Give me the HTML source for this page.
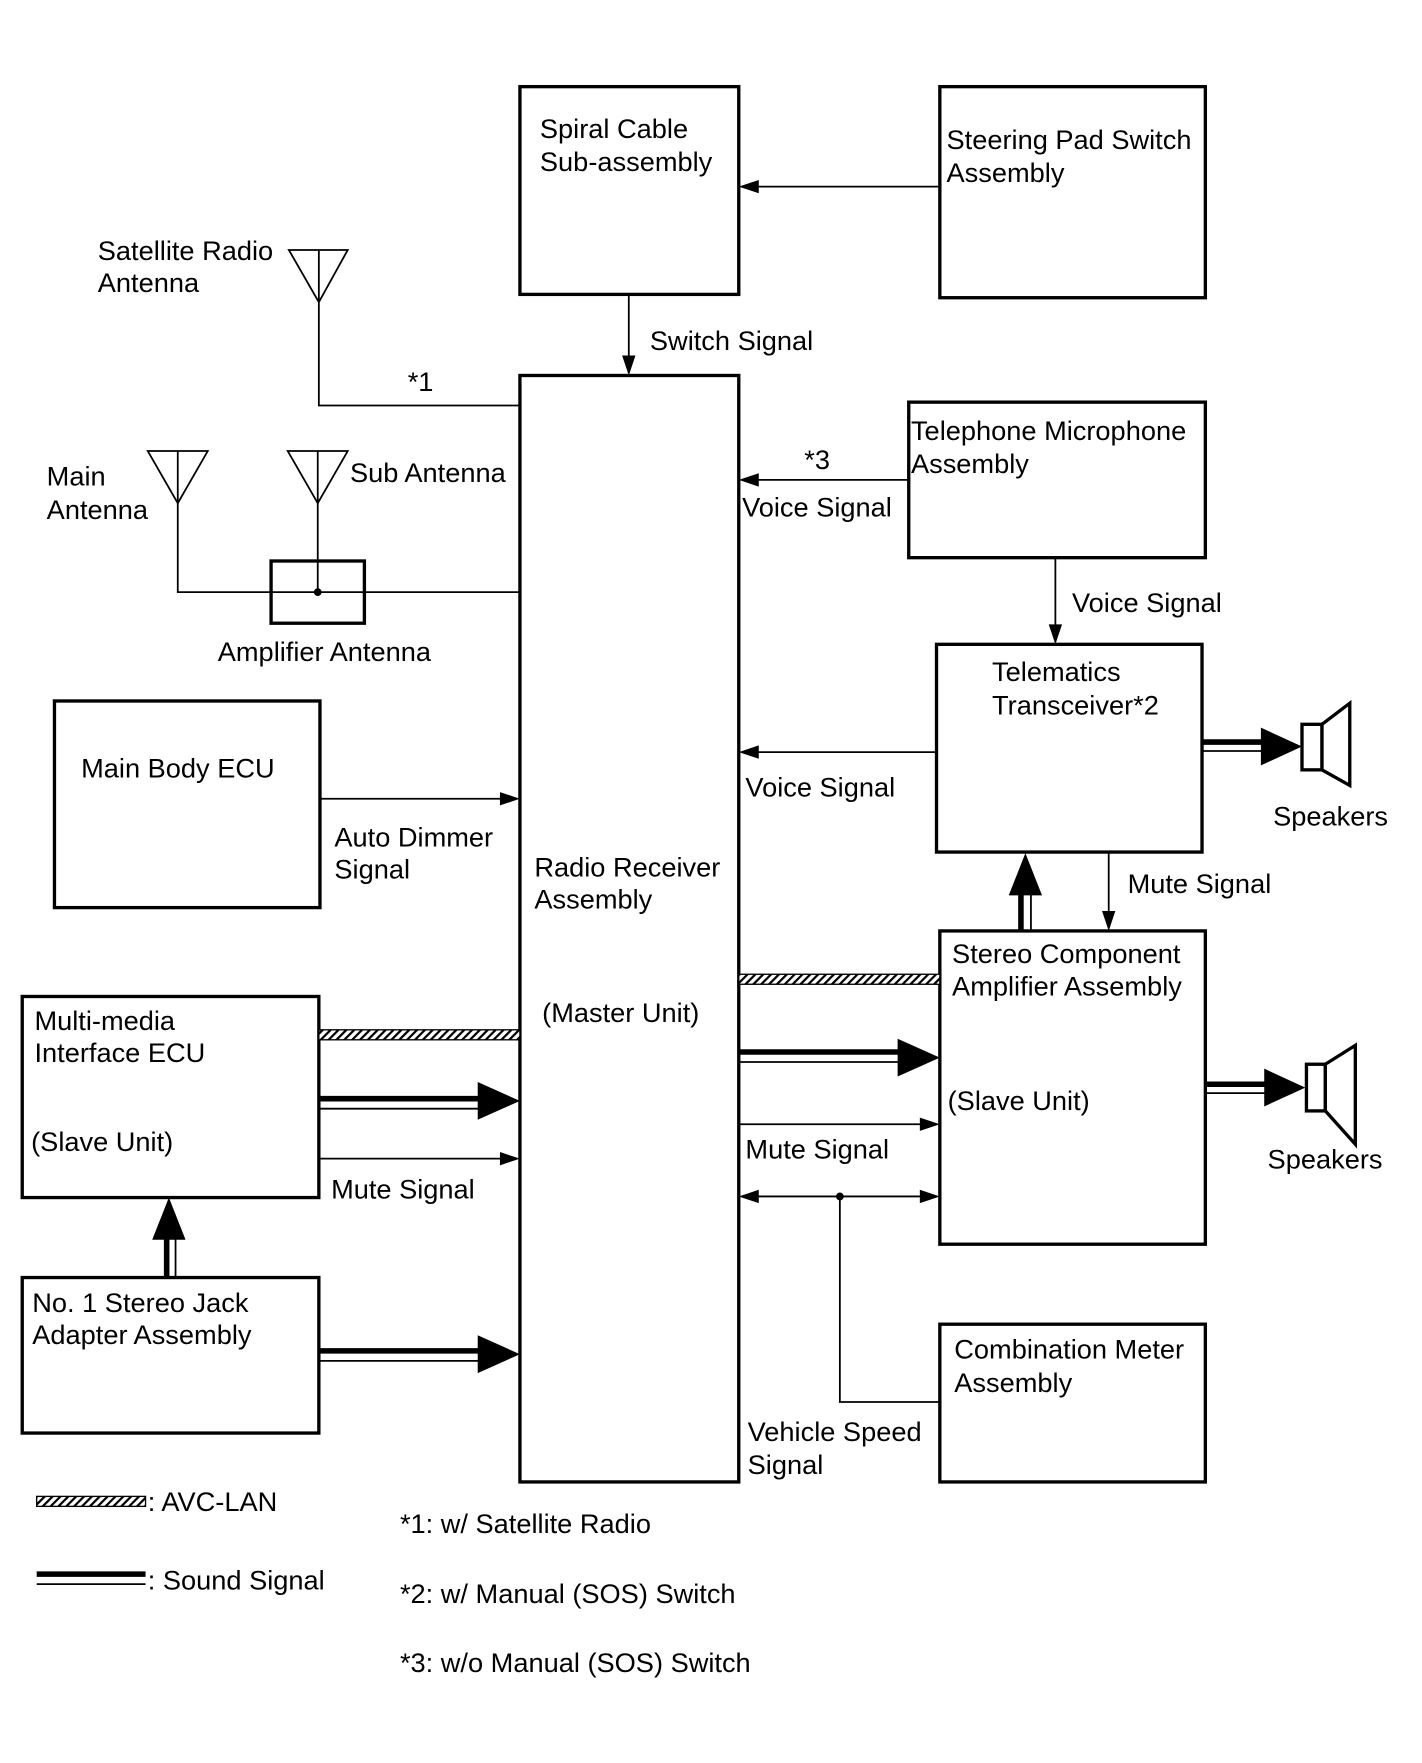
<!DOCTYPE html>
<html><head><meta charset="utf-8"><style>html,body{margin:0;padding:0;background:#fff}svg{display:block}</style></head><body>
<svg width="1422" height="1763" viewBox="0 0 1280 1587" xmlns="http://www.w3.org/2000/svg" font-family="Liberation Sans, sans-serif" font-size="24.5" fill="#000">
<defs>
<pattern id="h" width="5" height="5" patternUnits="userSpaceOnUse" patternTransform="rotate(45)"><rect width="5" height="5" fill="#fff"/><rect width="2" height="5" fill="#000"/></pattern>
</defs>
<g fill="none" stroke="#000" stroke-width="3">
<rect x="468" y="78" width="197" height="187"/>
<rect x="846" y="78" width="239" height="190"/>
<rect x="468" y="338" width="197" height="996"/>
<rect x="818" y="362" width="267" height="140"/>
<rect x="843" y="580" width="239" height="187"/>
<rect x="846" y="838" width="239" height="282"/>
<rect x="846" y="1192" width="239" height="142"/>
<rect x="49" y="631" width="239" height="186"/>
<rect x="20" y="897" width="267" height="181"/>
<rect x="20" y="1150" width="267" height="140"/>
<rect x="244" y="505" width="84" height="56"/>
</g>
<g fill="none" stroke="#000" stroke-width="1.6">
<line x1="846" y1="168" x2="675" y2="168"/>
<line x1="566" y1="265" x2="566" y2="328"/>
<polyline points="287,225 287,365 468,365"/>
<polygon points="260,225 313,225 287,272"/>
<polygon points="133,406 187,406 160,453"/>
<line x1="160" y1="406" x2="160" y2="453"/>
<polygon points="259,406 313,406 286,453"/>
<line x1="286" y1="406" x2="286" y2="533"/>
<polyline points="160,453 160,533 468,533"/>
<line x1="818" y1="432" x2="675" y2="432"/>
<line x1="950" y1="502" x2="950" y2="570"/>
<line x1="843" y1="677" x2="675" y2="677"/>
<line x1="998" y1="767" x2="998" y2="828"/>
<line x1="288" y1="719" x2="458" y2="719"/>
<line x1="288" y1="1043" x2="458" y2="1043"/>
<line x1="665" y1="1012" x2="836" y2="1012"/>
<line x1="675" y1="1077" x2="836" y2="1077"/>
<polyline points="756,1077 756,1262 846,1262"/>
<line x1="1082" y1="676" x2="1140" y2="676"/>
<line x1="1085" y1="984" x2="1140" y2="984"/>
<line x1="665" y1="956" x2="812" y2="956"/>
<line x1="287" y1="998" x2="434" y2="998"/>
<line x1="287" y1="1225" x2="434" y2="1225"/>
<line x1="928" y1="838" x2="928" y2="800"/>
<line x1="158" y1="1150" x2="158" y2="1110"/>
<line x1="33" y1="1426" x2="131" y2="1426"/>
</g>
<g stroke="#000" stroke-width="5" fill="none">
<line x1="1082" y1="668" x2="1140" y2="668"/>
<line x1="1085" y1="976" x2="1140" y2="976"/>
<line x1="665" y1="947" x2="812" y2="947"/>
<line x1="287" y1="989" x2="434" y2="989"/>
<line x1="287" y1="1216" x2="434" y2="1216"/>
<line x1="919" y1="838" x2="919" y2="800"/>
<line x1="150" y1="1150" x2="150" y2="1110"/>
<line x1="33" y1="1417" x2="131" y2="1417"/>
</g>
<g stroke="none" fill="#000">
<polygon points="665,168 683,162 683,174"/>
<polygon points="566,338 560,320 572,320"/>
<polygon points="665,432 683,426 683,438"/>
<polygon points="950,580 944,562 956,562"/>
<polygon points="665,677 683,671 683,683"/>
<polygon points="998,838 992,820 1004,820"/>
<polygon points="468,719 450,713 450,725"/>
<polygon points="468,1043 450,1037 450,1049"/>
<polygon points="846,1012 828,1006 828,1018"/>
<polygon points="846,1077 828,1071 828,1083"/>
<polygon points="665,1077 683,1071 683,1083"/>
<circle cx="756" cy="1077" r="3.5"/>
<circle cx="286" cy="533" r="3.5"/>
<polygon points="1172,672 1135,655 1135,689"/>
<polygon points="1175,979 1138,962 1138,996"/>
<polygon points="846,952 808,935 808,969"/>
<polygon points="468,991 430,974 430,1008"/>
<polygon points="468,1219 430,1202 430,1236"/>
<polygon points="923,768 908,806 938,806"/>
<polygon points="152,1078 137,1116 167,1116"/>
</g>
<g fill="url(#h)" stroke="#000" stroke-width="1.2">
<rect x="665" y="877" width="181" height="9"/>
<rect x="287" y="927" width="181" height="9"/>
<rect x="33" y="1347" width="98" height="9"/>
</g>
<g fill="#fff" stroke="#000" stroke-width="3">
<rect x="1172" y="652" width="18" height="41"/>
<polygon points="1190,652 1215,633 1215,707 1190,693"/>
<rect x="1176" y="958" width="17" height="42"/>
<polygon points="1193,958 1220,941 1220,1030 1193,1000"/>
</g>
<g>
<text x="486" y="124">Spiral Cable</text><text x="486" y="154">Sub-assembly</text>
<text x="852" y="134">Steering Pad Switch</text><text x="852" y="164">Assembly</text>
<text x="88" y="234">Satellite Radio</text><text x="88" y="263">Antenna</text>
<text x="585" y="315">Switch Signal</text>
<text x="367" y="352">*1</text>
<text x="820" y="396">Telephone Microphone</text><text x="820" y="426">Assembly</text>
<text x="724" y="422">*3</text>
<text x="668" y="465">Voice Signal</text>
<text x="42" y="437">Main</text><text x="42" y="467">Antenna</text>
<text x="315" y="434">Sub Antenna</text>
<text x="965" y="551">Voice Signal</text>
<text x="196" y="595">Amplifier Antenna</text>
<text x="893" y="613">Telematics</text><text x="893" y="643">Transceiver*2</text>
<text x="73" y="700">Main Body ECU</text>
<text x="671" y="717">Voice Signal</text>
<text x="1146" y="743">Speakers</text>
<text x="301" y="762">Auto Dimmer</text><text x="301" y="791">Signal</text>
<text x="481" y="789">Radio Receiver</text><text x="481" y="818">Assembly</text>
<text x="1015" y="804">Mute Signal</text>
<text x="857" y="867">Stereo Component</text><text x="857" y="896">Amplifier Assembly</text>
<text x="488" y="920">(Master Unit)</text>
<text x="31" y="927">Multi-media</text><text x="31" y="956">Interface ECU</text>
<text x="853" y="999">(Slave Unit)</text>
<text x="28" y="1036">(Slave Unit)</text>
<text x="671" y="1043">Mute Signal</text>
<text x="1141" y="1052">Speakers</text>
<text x="298" y="1079">Mute Signal</text>
<text x="29" y="1181">No. 1 Stereo Jack</text><text x="29" y="1210">Adapter Assembly</text>
<text x="859" y="1223">Combination Meter</text><text x="859" y="1253">Assembly</text>
<text x="673" y="1297">Vehicle Speed</text><text x="673" y="1327">Signal</text>
<text x="133" y="1360">: AVC-LAN</text>
<text x="133" y="1431">: Sound Signal</text>
<text x="360" y="1380">*1: w/ Satellite Radio</text>
<text x="360" y="1443">*2: w/ Manual (SOS) Switch</text>
<text x="360" y="1505">*3: w/o Manual (SOS) Switch</text>
</g>
</svg>
</body></html>
